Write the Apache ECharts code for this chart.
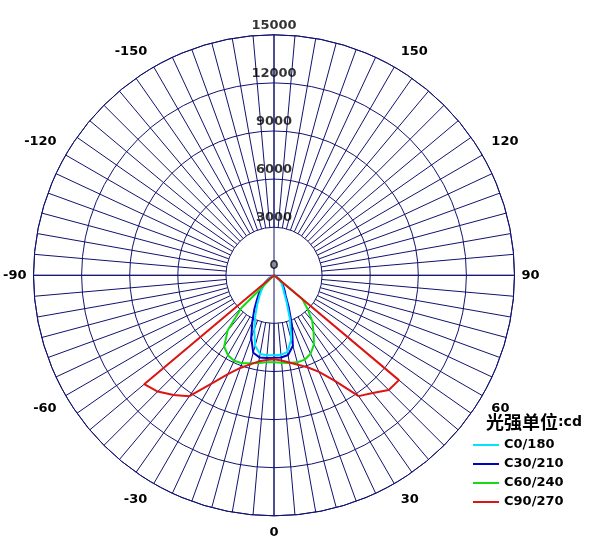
<!DOCTYPE html>
<html><head><meta charset="utf-8">
<script src="https://cdn.jsdelivr.net/npm/echarts@6/dist/echarts.min.js"></script>
<style>html,body{margin:0;padding:0;background:#fff}#c{width:600px;height:551px}</style>
</head><body><div id="c"></div>
<script>
// gamma angles (0 = straight down, + to the right)
const angles = [-90,-85,-80,-75,-70,-65,-60,-55,-50,-45,-40,-35,-30,-25,-20,-15,-10,-5,0,5,10,15,20,25,30,35,40,45,50,55,60,65,70,75,80,85,90];
const c0_180  = [0,0,0,0,0,90,230,420,660,920,1220,1580,2080,2750,3600,4550,4980,5000,4980,4980,4850,4150,2900,1880,1270,990,780,630,470,290,160,70,0,0,0,0,0];
const c30_210 = [0,0,0,0,0,120,280,500,800,1100,1450,1850,2450,3200,4150,5000,5200,5180,5150,5150,5050,4550,3250,2150,1450,1150,900,750,550,350,200,100,0,0,0,0,0];
const c60_240 = [0,0,0,0,0,0,0,0,0,2880,4500,5420,5750,5880,5840,5680,5550,5450,5420,5480,5560,5620,5600,5400,4980,4300,3700,2950,2300,0,0,0,0,0,0,0,0];
const c90_270 = [0,0,0,0,0,0,0,0,10570,10250,9750,9200,7800,6800,6150,5750,5450,5300,5230,5330,5520,5770,6100,6650,7600,9200,9580,10120,10170,0,0,0,0,0,0,0,0];
const seriesNames = ['C0/180','C30/210','C60/240','C90/270'];
const seriesColors = ['#00e4ff','#0000c8','#14dc14','#dc1414'];
const seriesZ = [5,4,6,7];
const radiusTicks = [0,3000,6000,9000,12000,15000];
const angleTicks = [-150,-120,-90,-60,-30,0,30,60,90,120,150];
const unitTitle = '光强单位';
const unitSuffix = ':cd';

const gridColor = '#121270';
const font = 'DejaVu Sans';
const center = [274, 275.3];
const R = 240.5;

function pairs(vals){ return vals.map((v,i)=>[v, angles[i]]); }
const allVals = [c0_180, c30_210, c60_240, c90_270];

const chart = echarts.init(document.getElementById('c'), null, {renderer:'canvas'});
chart.setOption({
  backgroundColor:'#fff',
  animation:false,
  title:{
    text:'{a|'+unitTitle+'}{b|'+unitSuffix+'}',
    left:481, top:408,
    textStyle:{rich:{
      a:{fontFamily:'Noto Sans CJK SC', fontWeight:'bold', fontSize:18, color:'#000'},
      b:{fontFamily:font, fontWeight:'bold', fontSize:14, color:'#000'}
    }}
  },
  legend:{
    orient:'vertical', left:468, top:432,
    icon:'rect', itemWidth:26, itemHeight:2, itemGap:3,
    data:seriesNames,
    textStyle:{fontFamily:font, fontWeight:'bold', fontSize:13, color:'#000', lineHeight:16}
  },
  polar:[
    {center:center, radius:R},
    {center:center, radius:[R*3000/15000, R]}
  ],
  angleAxis:[
    {polarIndex:0, type:'value', min:-180, max:180, interval:90, startAngle:90, clockwise:false,
     axisLine:{show:true, lineStyle:{color:gridColor, width:1}},
     axisTick:{show:false}, axisLabel:{show:false},
     splitLine:{show:true, lineStyle:{color:gridColor, width:1}}},
    {polarIndex:1, type:'value', min:-180, max:180, interval:5, startAngle:90, clockwise:false,
     axisLine:{show:false}, axisTick:{show:false},
     axisLabel:{show:true, margin:7, fontFamily:font, fontWeight:'bold', fontSize:13, color:'#000',
       formatter:v=>{
         const a = Math.round(v);
         if (angleTicks.indexOf(a) < 0) return '';
         return (Math.abs(a) === 90 ? '{m|' : '{p|') + a + '}';
       },
       rich:{
         m:{fontFamily:font, fontWeight:'bold', fontSize:13, color:'#000'},
         p:{fontFamily:font, fontWeight:'bold', fontSize:13, color:'#000', padding:[3,3,3,3]}
       }},
     splitLine:{show:true, lineStyle:{color:gridColor, width:1}}}
  ],
  radiusAxis:[
    {polarIndex:0, type:'value', min:0, max:15000, interval:3000,
     axisLine:{show:false}, axisTick:{show:false}, axisLabel:{show:false},
     splitLine:{show:true, lineStyle:{color:gridColor, width:1}}},
    {polarIndex:1, type:'value', min:3000, max:15000, show:false,
     axisLine:{show:false}, axisTick:{show:false}, axisLabel:{show:false}, splitLine:{show:false}}
  ],
  series: seriesNames.map((n,i)=>({
    name:n, type:'line', coordinateSystem:'polar', polarIndex:0,
    data:pairs(allVals[i]), showSymbol:false, symbol:'none', smooth:false,
    color:seriesColors[i], lineStyle:{color:seriesColors[i], width:2}, z:seriesZ[i]
  })).concat([{
    type:'scatter', coordinateSystem:'polar', polarIndex:0, symbolSize:0, silent:true,
    data: radiusTicks.map(v=>[v,180]),
    label:{show:true, position:'top', distance:3, formatter:p=>String(p.value[0]),
      fontFamily:font, fontWeight:'bold', fontSize:13, color:'#000'},
    z:10
  }])
});
</script></body></html>
